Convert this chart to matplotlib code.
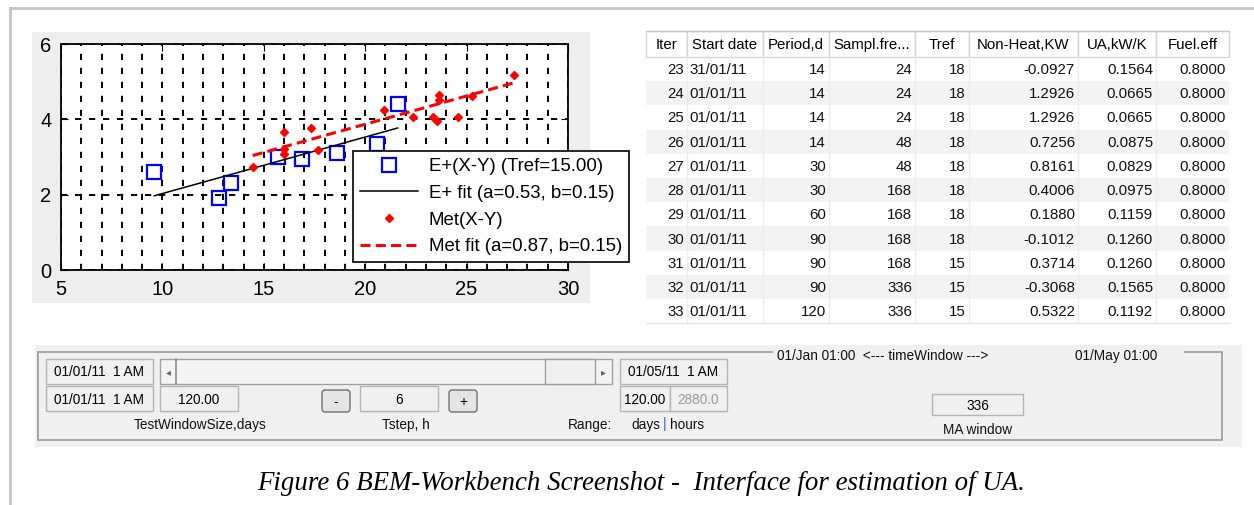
import numpy as np
import matplotlib.pyplot as plt
from matplotlib.patches import Rectangle, FancyBboxPatch

plt.rcParams['font.family'] = ['Liberation Sans', 'DejaVu Sans']

W, H = 1254, 505

# scatter data
ep_x = [9.6, 12.8, 13.4, 15.7, 16.9, 18.6, 20.6, 21.6]
ep_y = [2.6, 1.9, 2.3, 3.0, 2.95, 3.1, 3.35, 4.4]
ep_a, ep_b = 0.53, 0.15

met_x = [14.45, 16.0, 16.0, 16.0, 17.35, 17.65, 20.95, 22.35, 23.35, 23.55,
         23.65, 23.65, 24.6, 25.25, 27.35]
met_y = [2.73, 3.66, 3.22, 3.08, 3.77, 3.18, 4.25, 4.06, 4.06, 3.96,
         4.64, 4.52, 4.06, 4.62, 5.17]
met_a, met_b = 0.87, 0.15
tref = 15.00

# table
col_names = ['Iter', 'Start date', 'Period,d', 'Sampl.fre...', 'Tref',
             'Non-Heat,KW', 'UA,kW/K', 'Fuel.eff']
iters = [23, 24, 25, 26, 27, 28, 29, 30, 31, 32, 33]
start_dates = ['31/01/11'] + ['01/01/11'] * 10
periods = [14, 14, 14, 14, 30, 30, 60, 90, 90, 90, 120]
sampl = [24, 24, 24, 48, 48, 168, 168, 168, 168, 336, 336]
trefs = [18, 18, 18, 18, 18, 18, 18, 18, 15, 15, 15]
non_heat = [-0.0927, 1.2926, 1.2926, 0.7256, 0.8161, 0.4006, 0.1880,
            -0.1012, 0.3714, -0.3068, 0.5322]
ua = [0.1564, 0.0665, 0.0665, 0.0875, 0.0829, 0.0975, 0.1159, 0.1260,
      0.1260, 0.1565, 0.1192]
fuel_eff = [0.8] * 11

fig = plt.figure(figsize=(W / 100, H / 100), dpi=100)
ui = fig.add_axes([0, 0, 1, 1])
ui.set_xlim(0, W)
ui.set_ylim(H, 0)
ui.axis('off')

# page frame
ui.plot([10, W], [8, 8], color='#c4c4c4', lw=2)
ui.plot([10, 10], [8, H], color='#c4c4c4', lw=2)

# grey panel behind the chart
ui.add_patch(Rectangle((32, 32), 558, 271, color='#eeeeee', lw=0))

# ---- chart ----
ax = fig.add_axes([61 / W, 1 - 270 / H, (568 - 61) / W, (270 - 44) / H])
ax.set_zorder(2)
ax.set_xlim(5, 30)
ax.set_ylim(0, 6)
ax.set_xticks(range(5, 31, 5))
ax.set_xticks(range(5, 31), minor=True)
ax.set_yticks([0, 2, 4, 6])
ax.grid(which='both', axis='x', color='black', lw=1.4, linestyle=(0, (3.2, 4)))
ax.grid(which='major', axis='y', color='black', lw=1.4, linestyle=(0, (3.2, 4)))
ax.tick_params(which='major', direction='in', length=5, top=True, right=True,
               labelsize=14.5, pad=7, colors='black')
ax.tick_params(which='minor', length=0)
for s in ax.spines.values():
    s.set_linewidth(1.3)

ax.plot(ep_x, ep_y, 's', ms=10, mfc='none', mec='#0000ff', mew=1.6,
        label='E+(X-Y) (Tref=%.2f)' % tref)
ex = np.array([min(ep_x), max(ep_x)])
ax.plot(ex, ep_a + ep_b * ex, color='black', lw=1.1,
        label='E+ fit (a=%.2f, b=%.2f)' % (ep_a, ep_b))
ax.plot(met_x, met_y, 'D', ms=4.5, color='#ff0000', label='Met(X-Y)')
mx = np.array([min(met_x), max(met_x)])
ax.plot(mx, met_a + met_b * mx, color='#ff0000', lw=2.2, dashes=(3.3, 1.7),
        label='Met fit (a=%.2f, b=%.2f)' % (met_a, met_b))

leg = ax.legend(loc='upper left', bbox_to_anchor=(353 / W, 1 - 151 / H),
                bbox_transform=fig.transFigure, fontsize=13.4, fancybox=False,
                framealpha=1, edgecolor='black', borderaxespad=0,
                handlelength=3.1, handletextpad=0.6, labelspacing=0.52,
                borderpad=0.38)
leg.get_frame().set_linewidth(1.2)

# ---- table ----
bounds = [646, 687, 763, 829, 915, 969, 1078, 1156, 1229]
head_top, head_bot = 31, 57
row_h = 24.2
ui.plot([646, 1229], [head_top, head_top], color='#c8c8c8', lw=1)
for i, name in enumerate(col_names):
    x0, x1 = bounds[i], bounds[i + 1]
    ui.add_patch(Rectangle((x0, head_top), x1 - x0, head_bot - head_top,
                           facecolor='white', edgecolor='#d4d4d4', lw=1))
    ui.text((x0 + x1) / 2, (head_top + head_bot) / 2 + 1, name, ha='center',
            va='center', fontsize=10.8, color='black')

cols = [iters, start_dates, periods, sampl, trefs,
        ['%.4f' % v for v in non_heat], ['%.4f' % v for v in ua],
        ['%.4f' % v for v in fuel_eff]]
for r in range(len(iters)):
    y0 = head_bot + r * row_h
    if iters[r] % 2 == 0:
        ui.add_patch(Rectangle((646, y0), 1229 - 646, row_h,
                               facecolor='#f3f3f3', lw=0))
    yc = y0 + row_h / 2 + 1
    for c in range(len(cols)):
        val = str(cols[c][r])
        if c == 1:
            ui.text(bounds[c] + 2, yc, val, ha='left', va='center',
                    fontsize=10.8, color='#111111')
        else:
            ui.text(bounds[c + 1] - 3, yc, val, ha='right', va='center',
                    fontsize=10.8, color='#111111')
tab_bot = head_bot + len(iters) * row_h
for b in bounds[1:-1]:
    ui.plot([b, b], [head_bot, tab_bot], color='#ececec', lw=1)
ui.plot([646, 1229], [tab_bot, tab_bot], color='#e4e4e4', lw=1)

# ---- control panel ----
ui.add_patch(Rectangle((35, 345), 1207, 102, color='#f0f0f0', lw=0))
gb = '#a0a0a0'
ui.plot([38, 772], [352, 352], color=gb, lw=1.3)
ui.plot([1185, 1222, 1222, 38, 38], [352, 352, 440, 440, 352], color=gb, lw=1.3)


def box(x0, y0, x1, y1, txt='', color='black', fc='#f0f0f0'):
    ui.add_patch(Rectangle((x0, y0), x1 - x0, y1 - y0, facecolor=fc,
                           edgecolor='#b4b4b4', lw=1))
    if txt:
        ui.text((x0 + x1) / 2, (y0 + y1) / 2 + 1, txt, ha='center',
                va='center', fontsize=9.8, color=color)


def button(x0, y0, x1, y1, txt):
    ui.add_patch(FancyBboxPatch((x0, y0), x1 - x0, y1 - y0,
                                boxstyle='round,pad=0,rounding_size=3',
                                facecolor='#e4e4e4', edgecolor='#707070', lw=1))
    ui.text((x0 + x1) / 2, (y0 + y1) / 2 + 1, txt, ha='center', va='center',
            fontsize=10, color='black')


box(46, 359, 153, 384, '01/01/11  1 AM')
box(46, 386, 153, 411, '01/01/11  1 AM')
# slider
ui.add_patch(Rectangle((160, 359), 452, 25, facecolor='#f4f4f4',
                       edgecolor='#a0a0a0', lw=1))
ui.plot([176, 176], [359, 384], color='#8c8c8c', lw=1.2)
ui.add_patch(Rectangle((545, 359), 50, 25, facecolor='#f0f0f0',
                       edgecolor='#a0a0a0', lw=1))
ui.text(168, 372, '◂', ha='center', va='center', fontsize=7, color='#606060',
        family='DejaVu Sans')
ui.text(603, 372, '▸', ha='center', va='center', fontsize=7, color='#606060',
        family='DejaVu Sans')
box(160, 386, 238, 411, '120.00')
button(322, 390, 350, 412, '-')
box(360, 386, 438, 411, '6')
button(449, 390, 477, 412, '+')
box(620, 359, 727, 384, '01/05/11  1 AM')
box(620, 386, 670, 411, '120.00')
box(670, 386, 727, 411, '2880.0', color='#9a9a9a')
box(932, 394, 1023, 415, '336')

lab = dict(fontsize=9.8, color='#111111', va='center')
ui.text(200, 425, 'TestWindowSize,days', ha='center', **lab)
ui.text(406, 425, 'Tstep, h', ha='center', **lab)
ui.text(590, 425, 'Range:', ha='center', **lab)
ui.text(660, 425, 'days', ha='right', **lab)
ui.text(665, 424, '|', ha='center', fontsize=9.8, color='#3060d0', va='center')
ui.text(670, 425, 'hours', ha='left', **lab)
ui.text(978, 430, 'MA window', ha='center', **lab)
ui.text(777, 356, '01/Jan 01:00  <--- timeWindow --->', ha='left', **lab)
ui.text(1075, 356, '01/May 01:00', ha='left', **lab)

# caption
ui.text(641, 483, 'Figure 6 BEM-Workbench Screenshot -  Interface for estimation of UA.',
        ha='center', va='center', fontsize=19.4, style='italic',
        family=['Liberation Serif', 'DejaVu Serif'])

fig.savefig('out.png', dpi=100)
